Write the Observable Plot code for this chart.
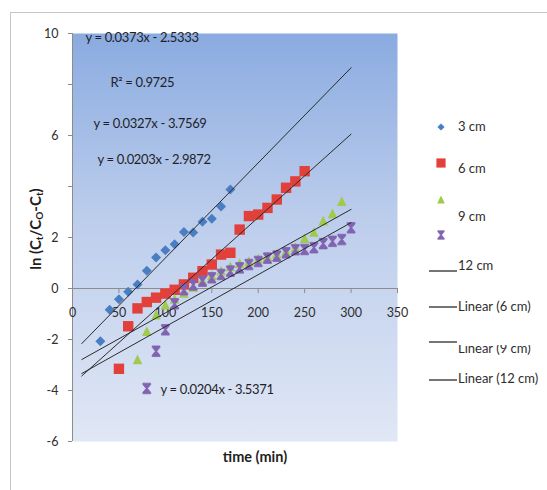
<!DOCTYPE html>
<html>
<head>
<meta charset="utf-8">
<script src="https://cdn.jsdelivr.net/npm/d3@7"></script>
<script src="https://cdn.jsdelivr.net/npm/@observablehq/plot@0.6"></script>
<style>
  html, body { margin: 0; padding: 0; background: #fff; }
  #chart { width: 547px; height: 490px; overflow: hidden; }
  svg { display: block; }
</style>
</head>
<body>
<div id="chart"></div>
<script>
const FONT = 'Lato, "Liberation Sans", sans-serif';

// Bed heights
const seriesNames = ["3 cm", "6 cm", "9 cm", "12 cm"];

// ln(Ct/(C0-Ct)) against time (min) for each bed height
const time3 = [30, 40, 50, 60, 70, 80, 90, 100, 110, 120, 130, 140, 150, 160, 170];
const ln3 = [-2.07, -0.83, -0.42, -0.13, 0.16, 0.7, 1.22, 1.5, 1.74, 2.22, 2.2, 2.62, 2.74, 3.22, 3.88];

const time6 = [50, 60, 70, 80, 90, 100, 110, 120, 130, 140, 150, 160, 170, 180, 190, 200, 210, 220, 230, 240, 250];
const ln6 = [-3.15, -1.48, -0.78, -0.53, -0.36, -0.2, -0.05, 0.16, 0.42, 0.68, 0.94, 1.33, 1.4, 2.31, 2.84, 2.9, 3.16, 3.49, 3.95, 4.2, 4.6];

const time9 = [70, 80, 90, 100, 110, 120, 130, 140, 150, 160, 170, 180, 190, 200, 210, 220, 230, 240, 250, 260, 270, 280, 290];
const ln9 = [-2.8, -1.7, -1.05, -0.66, -0.43, -0.2, 0.04, 0.3, 0.5, 0.68, 0.84, 0.97, 1.05, 1.15, 1.25, 1.35, 1.45, 1.6, 1.95, 2.2, 2.64, 2.92, 3.4];

const time12 = [80, 90, 100, 110, 120, 130, 140, 150, 160, 170, 180, 190, 200, 210, 220, 230, 240, 250, 260, 270, 280, 290, 300];
const ln12 = [-3.92, -2.46, -1.62, -0.6, -0.05, 0.14, 0.29, 0.42, 0.55, 0.68, 0.81, 0.94, 1.06, 1.19, 1.27, 1.4, 1.52, 1.53, 1.6, 1.76, 1.85, 1.92, 2.38];

// Linear trend lines (slope, intercept) and the one reported R²
const slopes = [0.0373, 0.0327, 0.0203, 0.0204];
const intercepts = [-2.5333, -3.7569, -2.9872, -3.5371];
const rSquared3 = 0.9725;
const trendSpan = [10, 300];

// Axis ticks
const xTicks = [0, 50, 100, 150, 200, 250, 300, 350];
const yTicks = [-6, -4, -2, 0, 2, 4, 6, 8, 10];
const yTickLabels = ["-6", "-4", "-2", "0", "2", "", "6", "", "10"];

// Legend entries (as they appear in the chart)
const legendLabels = ["3 cm", "6 cm", "9 cm", "", "12 cm", "Linear (6 cm)", "Linear (9 cm)", "Linear (12 cm)"];

const times = [time3, time6, time9, time12];
const values = [ln3, ln6, ln9, ln12];
const colors = ["#4a7ec2", "#e2403a", "#9fca4c", "#8263b2"];

// Marker shapes
const unit = (size) => Math.sqrt(size / Math.PI);
const diamondSym = { draw(c, size) { const r = unit(size); c.moveTo(0, -r); c.lineTo(r, 0); c.lineTo(0, r); c.lineTo(-r, 0); c.closePath(); } };
const squareSym = { draw(c, size) { const r = unit(size); c.rect(-r, -r, 2 * r, 2 * r); } };
const triangleSym = { draw(c, size) { const r = unit(size); c.moveTo(0, -r * 1.1); c.lineTo(r * 0.95, r * 0.85); c.lineTo(-r * 0.95, r * 0.85); c.closePath(); } };
const hourglassSym = { draw(c, size) {
  const r = unit(size), w = r * 0.85, h = r * 1.15, b = r * 0.3, m = r * 0.15;
  c.moveTo(-w, -h); c.lineTo(w, -h); c.lineTo(w, -h + b); c.lineTo(m, 0); c.lineTo(w, h - b);
  c.lineTo(w, h); c.lineTo(-w, h); c.lineTo(-w, h - b); c.lineTo(-m, 0); c.lineTo(-w, -h + b); c.closePath();
} };
const symbols = [diamondSym, squareSym, triangleSym, hourglassSym];
const markerR = [5, 5.2, 5, 4.6];

const rows = seriesNames.map((name, i) => times[i].map((t, j) => ({ series: name, t, v: values[i][j] })));
const fits = seriesNames.flatMap((name, i) => trendSpan.map(t => ({ series: name, t, v: slopes[i] * t + intercepts[i] })));

const eqText = (i) => `y = ${slopes[i]}x - ${Math.abs(intercepts[i]).toFixed(4)}`;
const EQ_SIZE = 13;
const EQ_FILL = "#1f1f2a";

const svg = Plot.plot({
  width: 547,
  height: 490,
  marginLeft: 72,
  marginRight: 150,
  marginTop: 33,
  marginBottom: 49,
  style: { fontFamily: FONT, fontSize: "12px", background: "transparent", color: "#333" },
  x: { domain: [0, 350], axis: null },
  y: { domain: [-6, 10], axis: null },
  marks: [
    Plot.frame({ fill: "url(#plotBg)" }),
    // axes crossing at the origin
    Plot.ruleY([0], { stroke: "#8c8c8c" }),
    Plot.ruleX([0], { stroke: "#8c8c8c" }),
    Plot.ruleX(xTicks, { x: d => d, y1: 0, y2: -0.2, stroke: "#8c8c8c" }),
    Plot.text(xTicks, { x: d => d, y: 0, dy: 24, text: d => String(d), fill: "#2e2e2e", fontSize: 12.5 }),
    Plot.axisY(yTicks, { tickSize: 4, tickPadding: 10, tickFormat: (d, i) => yTickLabels[i], stroke: "#8c8c8c", fill: "#2e2e2e", fontSize: 12.5, label: null }),
    // observations
    ...rows.map((data, i) => Plot.dot(data, {
      x: "t", y: "v", symbol: symbols[i], r: markerR[i], fill: colors[i],
      stroke: i === 3 ? colors[i] : null, strokeWidth: 0.8
    })),
    // trend lines
    Plot.line(fits, { x: "t", y: "v", z: "series", stroke: "#2b2b2b", strokeWidth: 1 }),
    // trend line equations
    Plot.text([eqText(0)], { x: 14, y: 9.84, text: d => d, textAnchor: "start", fill: EQ_FILL, fontSize: EQ_SIZE }),
    Plot.text([`R² = ${rSquared3}`], { x: 41, y: 8.08, text: d => d, textAnchor: "start", fill: EQ_FILL, fontSize: EQ_SIZE }),
    Plot.text([eqText(1)], { x: 22.6, y: 6.47, text: d => d, textAnchor: "start", fill: EQ_FILL, fontSize: EQ_SIZE }),
    Plot.text([eqText(2)], { x: 27, y: 5.06, text: d => d, textAnchor: "start", fill: EQ_FILL, fontSize: EQ_SIZE }),
    Plot.text([eqText(3)], { x: 94.8, y: -3.96, text: d => d, textAnchor: "start", fill: EQ_FILL, fontSize: EQ_SIZE })
  ]
});

const root = d3.select(svg);

// tighten the equation labels slightly
root.selectAll("text").filter(function () { return /^(y =|R²)/.test(this.textContent); })
  .attr("letter-spacing", -0.35);

// plot-area gradient
const defs = root.insert("defs", ":first-child");
const grad = defs.append("linearGradient").attr("id", "plotBg").attr("x1", 0).attr("y1", 0).attr("x2", 0).attr("y2", 1);
grad.append("stop").attr("offset", "0%").attr("stop-color", "#8aabe0");
grad.append("stop").attr("offset", "45%").attr("stop-color", "#bccdec");
grad.append("stop").attr("offset", "100%").attr("stop-color", "#e0e7f5");
defs.append("clipPath").attr("id", "clipHalf").append("rect").attr("x", 440).attr("y", 345).attr("width", 107).attr("height", 20);

// chart border
root.insert("rect", "defs + *").attr("x", 10.5).attr("y", 12.5).attr("width", 600).attr("height", 600)
  .attr("fill", "none").attr("stroke", "#c6c6c6");

// axis titles
const yTitle = root.append("text").attr("transform", "translate(37,229) rotate(-90)")
  .attr("text-anchor", "middle").attr("dominant-baseline", "middle")
  .attr("font-family", FONT).attr("font-size", 15).attr("font-weight", "bold").attr("fill", "#1e1e1e");
[["ln (C", false], ["t", true], ["/C", false], ["O", true], ["-C", false], ["t", true], [")", false]].forEach(([s, sub]) => {
  const ts = yTitle.append("tspan").text(s);
  if (sub) ts.attr("font-size", 10).attr("dy", 3);
  else if (s !== "ln (C") ts.attr("dy", -3);
});
root.append("text").attr("x", 255).attr("y", 458).attr("text-anchor", "middle").attr("dominant-baseline", "middle")
  .attr("font-family", FONT).attr("font-size", 14.5).attr("font-weight", "bold").attr("fill", "#1e1e1e")
  .text("time (min)");

// legend
const lg = root.append("g").attr("font-family", FONT).attr("font-size", 13).attr("fill", "#2e2e2e").attr("text-anchor", "start");
const legendMarks = [
  { sym: 0, my: 127, ty: 128 },
  { sym: 1, my: 163, ty: 170 },
  { sym: 2, my: 200, ty: 218 },
  { sym: 3, my: 235, ty: null },
  { line: 271, ty: 267 },
  { line: 307, ty: 308 },
  { line: 342, ty: 350, clip: true },
  { line: 380, ty: 380 }
];
const legendR = [3.6, 4.6, 4, 3.8];
legendMarks.forEach((m, i) => {
  if (m.sym !== undefined) {
    lg.append("path").attr("transform", `translate(441,${m.my})`)
      .attr("d", d3.symbol(symbols[m.sym], Math.PI * legendR[m.sym] ** 2)())
      .attr("fill", colors[m.sym]).attr("stroke", m.sym === 3 ? colors[m.sym] : "none").attr("stroke-width", 0.6);
  } else {
    lg.append("line").attr("x1", 429).attr("x2", 457).attr("y1", m.line).attr("y2", m.line)
      .attr("stroke", "#2b2b2b").attr("stroke-width", 1.3);
  }
  if (m.ty !== null && legendLabels[i]) {
    const t = lg.append("text").attr("x", 458).attr("y", m.ty).attr("dominant-baseline", "middle").text(legendLabels[i]);
    if (m.clip) t.attr("clip-path", "url(#clipHalf)");
  }
});

document.getElementById("chart").appendChild(svg);
</script>
</body>
</html>
